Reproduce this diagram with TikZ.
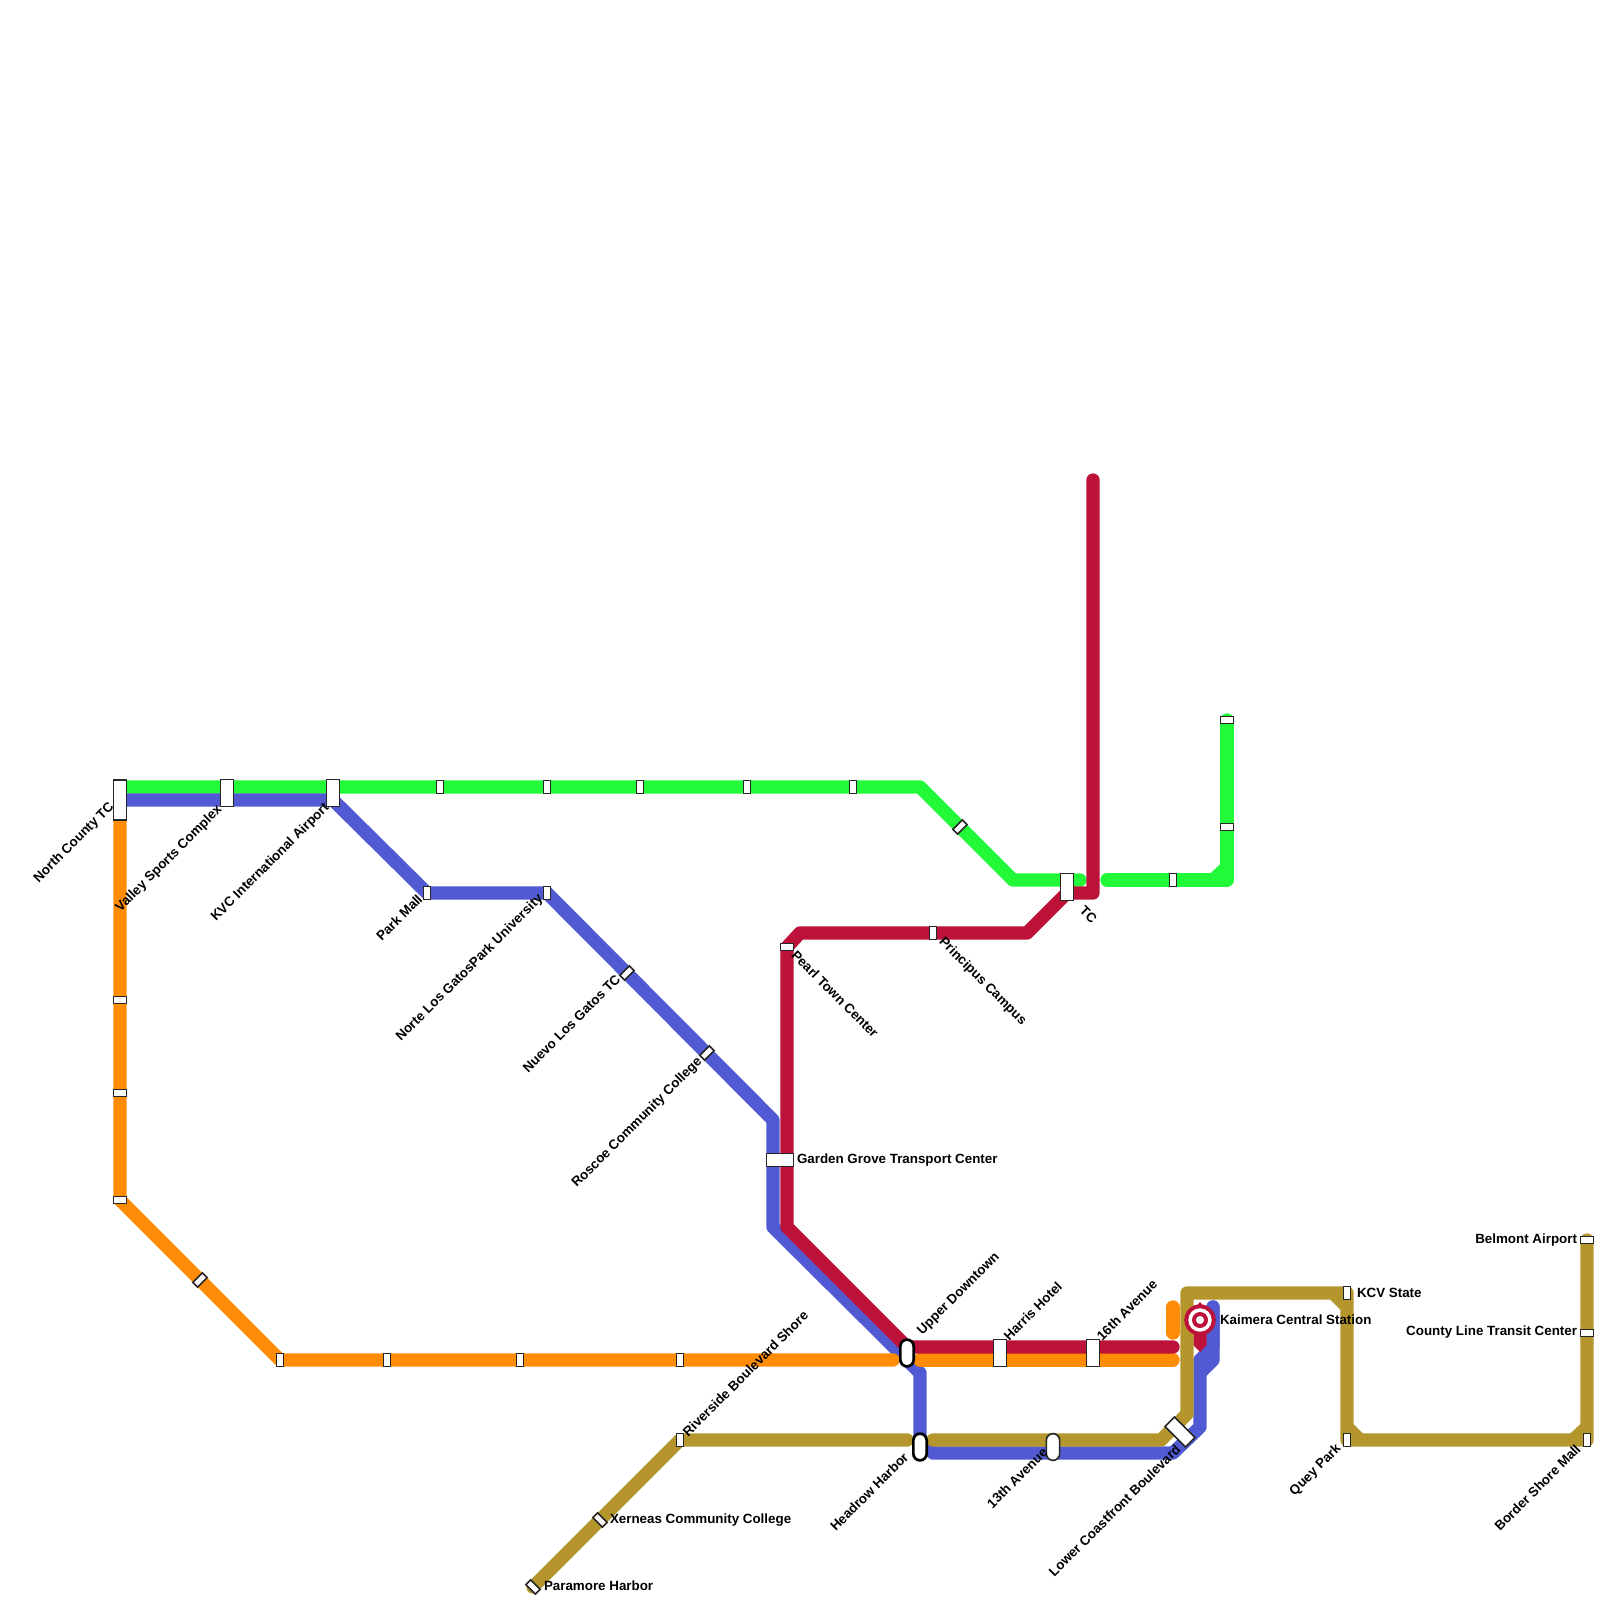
\documentclass[tikz,border=0pt]{standalone}
\usepackage{fontspec}
\setmainfont{Liberation Sans}
\definecolor{cgreen}{HTML}{22F938}
\definecolor{cblue}{HTML}{5159D3}
\definecolor{cred}{HTML}{BC1139}
\definecolor{corange}{HTML}{FF8C06}
\definecolor{cgold}{HTML}{B4962C}
\tikzset{
  metro/.style={line width=0.1333cm,line cap=round,line join=round},
  chamf/.style={line width=0.1333cm,line cap=butt},
  stbase/.style={draw=black!85,fill=white,line width=0.016cm,inner sep=0,outer sep=0,rectangle},
  stv/.style={stbase,minimum width=0.067cm,minimum height=0.133cm},
  sth/.style={stbase,minimum width=0.133cm,minimum height=0.067cm},
  stlong/.style={stbase,minimum width=0.133cm,minimum height=0.267cm},
  pill/.style={stbase,minimum width=0.133cm,minimum height=0.267cm,rounded corners=0.066cm},
  pillb/.style={pill,line width=0.027cm,draw=black},
  lbl/.style={inner sep=0,outer sep=0,font=\bfseries\fontsize{3.8pt}{4pt}\selectfont,text=black},
  lup/.style={lbl,rotate=45,anchor=west},
  lupe/.style={lbl,rotate=45,anchor=east},
  ldn/.style={lbl,rotate=-45,anchor=west},
  lr/.style={lbl,anchor=west},
  ll/.style={lbl,anchor=east}
}
\begin{document}
\begin{tikzpicture}[x=0.01cm,y=-0.01cm]
\useasboundingbox (0,0) rectangle (1600,1600);
% waypoints
\coordinate (g1) at (120,787); \coordinate (g2) at (920,787); \coordinate (g3) at (1013,880); \coordinate (g4) at (1080,880);
\coordinate (g5) at (1107,880); \coordinate (g6) at (1227,880); \coordinate (g7) at (1227,720); \coordinate (g8) at (1213,880); \coordinate (g9) at (1227,867);
\coordinate (b1) at (120,800); \coordinate (b2) at (333,800); \coordinate (b3) at (427,893); \coordinate (b4) at (547,893); \coordinate (b5) at (773,1120);
\coordinate (b6) at (773,1227); \coordinate (b7) at (907,1360); \coordinate (b8) at (920,1373); \coordinate (b9) at (920,1440); \coordinate (b10) at (933,1453);
\coordinate (b11) at (1173,1453); \coordinate (b12) at (1200,1427); \coordinate (b13) at (1200,1360); \coordinate (b14) at (1213,1347); \coordinate (b15) at (1213,1307);
\coordinate (b16) at (1213,1360); \coordinate (b17) at (1200,1373);
\coordinate (r1) at (1093,480); \coordinate (r2) at (1093,893); \coordinate (r3) at (1067,893); \coordinate (r4) at (1027,933); \coordinate (r5) at (800,933);
\coordinate (r6) at (787,947); \coordinate (r7) at (787,1227); \coordinate (r8) at (907,1347); \coordinate (r9) at (1173,1347);
\coordinate (o1) at (120,800); \coordinate (o2) at (120,1200); \coordinate (o3) at (280,1360); \coordinate (o4) at (893,1360); \coordinate (o5) at (920,1360); \coordinate (o6) at (1173,1360);
\coordinate (o7) at (1173,1307); \coordinate (o8) at (1173,1333);
\coordinate (y1) at (533,1587); \coordinate (y2) at (680,1440); \coordinate (y3) at (907,1440); \coordinate (y4) at (933,1440); \coordinate (y5) at (1161,1440);
\coordinate (y6) at (1187,1414); \coordinate (y7) at (1187,1293); \coordinate (y8) at (1347,1293); \coordinate (y9) at (1347,1440); \coordinate (y10) at (1587,1440); \coordinate (y11) at (1587,1240);
\coordinate (y12) at (1333,1293); \coordinate (y13) at (1347,1307); \coordinate (y14) at (1347,1427); \coordinate (y15) at (1360,1440); \coordinate (y16) at (1573,1440); \coordinate (y17) at (1587,1427);
% lines
\draw[metro,cgreen] (g1)--(g2)--(g3)--(g4);
\draw[metro,cgreen] (g5)--(g6)--(g7);
\draw[chamf,cgreen] (g8)--(g9);
\draw[metro,cblue] (b1)--(b2)--(b3)--(b4)--(b5)--(b6)--(b7)--(b8)--(b9)--(b10)--(b11)--(b12)--(b13)--(b14)--(b15);
\draw[metro,cblue] (b15)--(b16)--(b17);
\draw[metro,corange] (o1)--(o2)--(o3)--(o4);
\draw[metro,corange] (o5)--(o6);
\draw[metro,corange] (o7)--(o8);
\draw[metro,cred] (r1)--(r2)--(r3)--(r4)--(r5)--(r6)--(r7)--(r8)--(r9);
\fill[cred] (1193.3,1310) -- (1200,1302) -- (1206.7,1310) -- (1206.7,1345) -- (1200,1352) -- (1193.3,1345) -- cycle;
\draw[metro,cgold] (y1)--(y2)--(y3);
\draw[metro,cgold] (y4)--(y5)--(y6)--(y7)--(y8)--(y9)--(y10)--(y11);
\draw[chamf,cgold] (y12)--(y13);
\draw[chamf,cgold] (y14)--(y15);
\draw[chamf,cgold] (y16)--(y17);
% stations
\node[stbase,minimum width=0.133cm,minimum height=0.4cm] (northcounty) at (120,800) {};
\node[stlong] (valley) at (227,793) {};
\node[stlong] (kvc) at (333,793) {};
\node[stv] (g01) at (440,787) {};
\node[stv] (g02) at (547,787) {};
\node[stv] (g03) at (640,787) {};
\node[stv] (g04) at (747,787) {};
\node[stv] (g05) at (853,787) {};
\node[sth,rotate=45] (g06) at (960,827) {};
\node[stlong] (tc) at (1067,887) {};
\node[stv] (g07) at (1173,880) {};
\node[sth] (g08) at (1227,827) {};
\node[sth] (g09) at (1227,720) {};
\node[sth] (o01) at (120,1000) {};
\node[sth] (o02) at (120,1093) {};
\node[sth] (o03) at (120,1200) {};
\node[sth,rotate=45] (o04) at (200,1280) {};
\node[stv] (o05) at (280,1360) {};
\node[stv] (o06) at (387,1360) {};
\node[stv] (o07) at (520,1360) {};
\node[stv] (o08) at (680,1360) {};
\node[stv] (parkmall) at (427,893) {};
\node[stv] (norte) at (547,893) {};
\node[sth,rotate=45] (nuevo) at (627,973) {};
\node[sth,rotate=45] (roscoe) at (707,1053) {};
\node[stbase,minimum width=0.267cm,minimum height=0.133cm] (garden) at (780,1160) {};
\node[sth] (pearl) at (787,947) {};
\node[stv] (principus) at (933,933) {};
\node[pillb] (upper) at (907,1353) {};
\node[pillb] (headrow) at (920,1447) {};
\node[stlong] (harris) at (1000,1353) {};
\node[stlong] (sixteenth) at (1093,1353) {};
\node[pill] (thirteenth) at (1053,1447) {};
\node[stbase,minimum width=0.29cm,minimum height=0.133cm,rotate=-45] (lower) at (1180,1432) {};
\node[stv] (kcv) at (1347,1293) {};
\node[stv] (quey) at (1347,1440) {};
\node[stv] (border) at (1587,1440) {};
\node[sth] (county) at (1587,1333) {};
\node[sth] (belmont) at (1587,1240) {};
\node[stv] (riverside) at (680,1440) {};
\node[sth,rotate=-45] (xerneas) at (600,1520) {};
\node[sth,rotate=-45] (paramore) at (533,1587) {};
\node[circle,fill=cred,minimum size=0.314cm,inner sep=0] (kaimera) at (1200,1320) {};
\node[circle,fill=white,minimum size=0.234cm,inner sep=0] (kaimeraA) at (kaimera) {};
\node[circle,fill=cred,minimum size=0.16cm,inner sep=0] (kaimeraB) at (kaimera) {};
\node[circle,fill=white,minimum size=0.08cm,inner sep=0] (kaimeraC) at (kaimera) {};
% labels
\node[lupe] (t1) at (112,805) {North County TC};
\node[lupe] (t2) at (220,808) {Valley Sports Complex};
\node[lupe] (t3) at (327,806) {KVC International Airport};
\node[lupe] (t4) at (420,897) {Park Mall};
\node[lupe] (t5) at (541,897) {Norte Los GatosPark University};
\node[lupe] (t6) at (618,977) {Nuevo Los Gatos TC};
\node[lupe] (t7) at (700,1060) {Roscoe Community College};
\node[lupe] (t8) at (906,1455) {Headrow Harbor};
\node[lupe] (t9) at (1045,1450) {13th Avenue};
\node[lupe] (t10) at (1178,1447) {Lower Coastfront Boulevard};
\node[lupe] (t11) at (1339,1447) {Quey Park};
\node[lupe] (t12) at (1578,1447) {Border Shore Mall};
\node[lup] (t13) at (920,1333) {Upper Downtown};
\node[lup] (t14) at (1006,1338) {Harris Hotel};
\node[lup] (t15) at (1099,1338) {16th Avenue};
\node[lup] (t16) at (685,1434) {Riverside Boulevard Shore};
\node[ldn] (t17) at (794,953) {Pearl Town Center};
\node[ldn] (t18) at (941,940) {Principus Campus};
\node[ldn] (t19) at (1082,908) {TC};
\node[lr] (t20) at (797,1160) {Garden Grove Transport Center};
\node[lr] (t21) at (1220,1320) {Kaimera Central Station};
\node[lr] (t22) at (1357,1293) {KCV State};
\node[lr] (t23) at (610,1520) {Xerneas Community College};
\node[lr] (t24) at (544,1586) {Paramore Harbor};
\node[ll] (t25) at (1577,1240) {Belmont Airport};
\node[ll] (t26) at (1577,1332) {County Line Transit Center};
\end{tikzpicture}
\end{document}
